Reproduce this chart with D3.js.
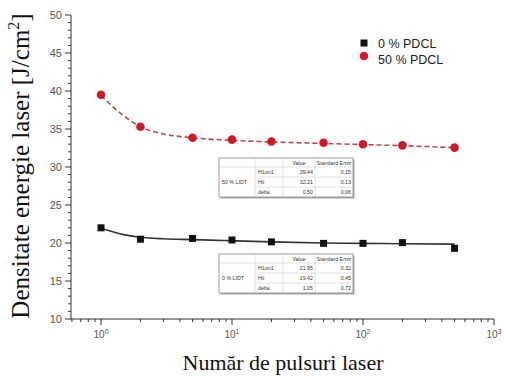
<!DOCTYPE html>
<html>
<head>
<meta charset="utf-8">
<script src="https://cdn.jsdelivr.net/npm/d3@7"></script>
<style>
  body { margin: 0; background: #fff; }
  svg { display: block; }
</style>
</head>
<body>
<svg id="chart" width="505" height="378"></svg>
<script>
// pulses (N) and measured thresholds
const pulses = [1, 2, 5, 10, 20, 50, 100, 200, 500];
const pdcl0 = [22.0, 20.5, 20.6, 20.4, 20.15, 19.95, 19.95, 20.05, 19.3];
const pdcl50 = [39.5, 35.3, 33.85, 33.6, 33.35, 33.2, 33.0, 32.85, 32.55];

// fitted curves
const fitN = [1, 1.5, 2, 3, 5, 10, 20, 50, 100, 200, 500];
const fit0 = [21.95, 21.1, 20.75, 20.55, 20.45, 20.3, 20.15, 20.0, 19.95, 19.9, 19.85];
const fit50 = [39.4, 36.7, 35.3, 34.35, 33.85, 33.5, 33.3, 33.1, 32.95, 32.8, 32.55];

const yTicks = [10, 15, 20, 25, 30, 35, 40, 45, 50];
const xDecades = [0, 1, 2, 3];

const legendNames = ["0 % PDCL", "50 % PDCL"];

// fit result tables
const tableHeader = ["", "", "Value", "Standard Error"];
const params = ["H1on1", "Hil", "delta"];
const fit50Values = ["39.44", "32.21", "0.50"];
const fit50Errors = ["0.15", "0.13", "0.06"];
const fit0Values = ["21.95", "19.42", "1.05"];
const fit0Errors = ["0.32", "0.45", "0.72"];

const svg = d3.select("#chart");

const x = d3.scaleLog().domain([0.59, 1000]).range([71, 494]);
const y = d3.scaleLinear().domain([10, 50]).range([319, 15]);

const axisColor = "#333";
const labelColor = "#555";

// y axis
const yAxis = svg.append("g");
yAxis.append("line")
  .attr("x1", 71).attr("x2", 71)
  .attr("y1", y(50)).attr("y2", y(10))
  .attr("stroke", axisColor);
yAxis.selectAll("line.minor")
  .data(d3.range(10, 51, 1))
  .join("line")
  .attr("class", "minor")
  .attr("x1", 71)
  .attr("x2", d => d % 5 === 0 ? 65 : 68)
  .attr("y1", d => y(d)).attr("y2", d => y(d))
  .attr("stroke", axisColor);
yAxis.selectAll("text")
  .data(yTicks)
  .join("text")
  .attr("x", 62)
  .attr("y", d => y(d) + 4)
  .attr("text-anchor", "end")
  .attr("font-family", "Liberation Sans, Arial, sans-serif")
  .attr("font-size", 11)
  .attr("fill", labelColor)
  .text(d => d);

// x axis
const xAxis = svg.append("g");
xAxis.append("line")
  .attr("x1", 71).attr("x2", 494)
  .attr("y1", 319).attr("y2", 319)
  .attr("stroke", axisColor);

const xMinor = [];
[0.1, 1, 10, 100].forEach(b => {
  for (let k = 1; k <= 9; k++) {
    const v = b * k;
    if (v >= 0.59 && v <= 1000) xMinor.push(v);
  }
});
xMinor.push(1000);
xAxis.selectAll("line.tick")
  .data(xMinor)
  .join("line")
  .attr("class", "tick")
  .attr("x1", d => x(d)).attr("x2", d => x(d))
  .attr("y1", 319)
  .attr("y2", d => Math.abs(Math.log10(d) - Math.round(Math.log10(d))) < 1e-9 ? 325 : 322)
  .attr("stroke", axisColor);

const xLab = xAxis.selectAll("text")
  .data(xDecades)
  .join("text")
  .attr("x", d => x(Math.pow(10, d)))
  .attr("y", 338)
  .attr("text-anchor", "middle")
  .attr("font-family", "Liberation Sans, Arial, sans-serif")
  .attr("font-size", 10)
  .attr("fill", labelColor);
xLab.append("tspan").text("10");
xLab.append("tspan").attr("dy", -4).attr("font-size", 7).text(d => d);

// axis titles
svg.append("text")
  .attr("transform", "translate(29,166) rotate(-90)")
  .attr("text-anchor", "middle")
  .attr("font-family", "Liberation Serif, Times New Roman, serif")
  .attr("font-size", 25)
  .attr("fill", "#111")
  .call(t => {
    t.append("tspan").text("Densitate energie laser [J/cm");
    t.append("tspan").attr("dy", -10).attr("font-size", 16).text("2");
    t.append("tspan").attr("dy", 10).text("]");
  });

svg.append("text")
  .attr("x", 283).attr("y", 370)
  .attr("text-anchor", "middle")
  .attr("font-family", "Liberation Serif, Times New Roman, serif")
  .attr("font-size", 22)
  .attr("fill", "#111")
  .text("Număr de pulsuri laser");

// fit lines
const line = d3.line()
  .x(d => x(d[0]))
  .y(d => y(d[1]))
  .curve(d3.curveMonotoneX);

svg.append("path")
  .datum(d3.zip(fitN, fit50))
  .attr("d", line)
  .attr("fill", "none")
  .attr("stroke", "#b84848")
  .attr("stroke-width", 1.6)
  .attr("stroke-dasharray", "5,3");

svg.append("path")
  .datum(d3.zip(fitN, fit0))
  .attr("d", line)
  .attr("fill", "none")
  .attr("stroke", "#333")
  .attr("stroke-width", 1.6);

// markers
svg.append("g").selectAll("rect")
  .data(d3.zip(pulses, pdcl0))
  .join("rect")
  .attr("x", d => x(d[0]) - 3.5)
  .attr("y", d => y(d[1]) - 3.5)
  .attr("width", 7).attr("height", 7)
  .attr("fill", "#111");

svg.append("g").selectAll("circle")
  .data(d3.zip(pulses, pdcl50))
  .join("circle")
  .attr("cx", d => x(d[0]))
  .attr("cy", d => y(d[1]))
  .attr("r", 4.3)
  .attr("fill", "#d01826");

// legend
const legend = svg.append("g").attr("font-family", "Liberation Sans, Arial, sans-serif");
legend.append("rect").attr("x", 360.5).attr("y", 39.5).attr("width", 7).attr("height", 7).attr("fill", "#111");
legend.append("circle").attr("cx", 364).attr("cy", 56).attr("r", 4.3).attr("fill", "#d01826");
legend.selectAll("text")
  .data(legendNames)
  .join("text")
  .attr("x", 378)
  .attr("y", (d, i) => 47.5 + i * 16)
  .attr("font-size", 12.5)
  .attr("fill", "#222")
  .text(d => d);

// fit tables
function drawTable(x0, y0, label, values, errors) {
  const cols = [0, 36, 64, 96, 134];
  const rowH = [9, 10, 10, 10];
  const w = cols[cols.length - 1];
  const h = d3.sum(rowH);
  const g = svg.append("g")
    .attr("transform", `translate(${x0},${y0})`)
    .attr("font-family", "Liberation Sans, Arial, sans-serif")
    .attr("font-size", 5.3)
    .attr("fill", "#333");
  g.append("rect").attr("x", 1.5).attr("y", 1.5).attr("width", w).attr("height", h).attr("fill", "#aaa");
  g.append("rect").attr("width", w).attr("height", h).attr("fill", "#fff").attr("stroke", "#888").attr("stroke-width", 0.8);
  const rowY = [0];
  rowH.forEach((r, i) => rowY.push(rowY[i] + r));
  // inner grid
  g.selectAll("line.h")
    .data(rowY.slice(1, -1))
    .join("line")
    .attr("x1", (d, i) => i === 0 ? 0 : cols[1]).attr("x2", w)
    .attr("y1", d => d).attr("y2", d => d)
    .attr("stroke", "#ccc").attr("stroke-width", 0.6);
  g.selectAll("line.v")
    .data(cols.slice(1, -1))
    .join("line")
    .attr("x1", d => d).attr("x2", d => d)
    .attr("y1", 0).attr("y2", h)
    .attr("stroke", "#ccc").attr("stroke-width", 0.6);
  g.append("text").attr("x", (cols[2] + cols[3]) / 2).attr("y", 6.5).attr("text-anchor", "middle").text(tableHeader[2]);
  g.append("text").attr("x", (cols[3] + cols[4]) / 2).attr("y", 6.5).attr("text-anchor", "middle").text(tableHeader[3]);
  g.append("text").attr("x", 3).attr("y", rowY[1] + 17).text(label);
  params.forEach((p, i) => {
    const yy = rowY[i + 1] + 7;
    g.append("text").attr("x", cols[1] + 3).attr("y", yy).text(p);
    g.append("text").attr("x", cols[3] - 2).attr("y", yy).attr("text-anchor", "end").text(values[i]);
    g.append("text").attr("x", cols[4] - 2).attr("y", yy).attr("text-anchor", "end").text(errors[i]);
  });
}

drawTable(219, 158, "50 % LIDT", fit50Values, fit50Errors);
drawTable(219, 254, "0 % LIDT", fit0Values, fit0Errors);
</script>
</body>
</html>
